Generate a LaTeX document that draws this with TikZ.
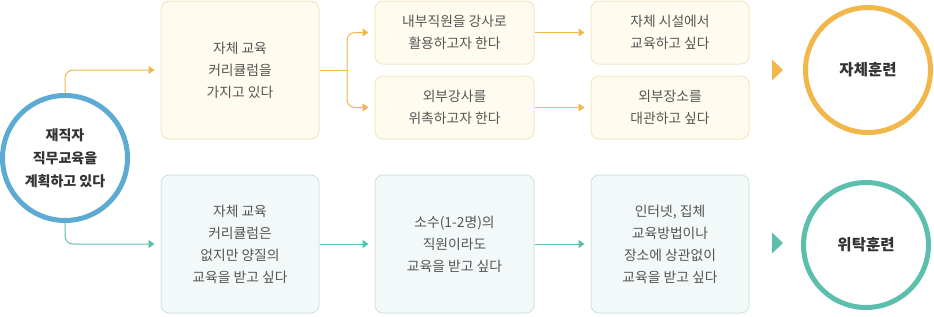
\documentclass[tikz,border=0pt]{standalone}
\usepackage{fontspec}
\setmainfont{Noto Sans CJK KR}
\usetikzlibrary{arrows.meta}
\definecolor{orangeC}{HTML}{F2B74A}
\definecolor{blueC}{HTML}{5DAAD2}
\definecolor{tealC}{HTML}{5CBFAE}
\definecolor{ufill}{HTML}{FFFCEF}
\definecolor{uline}{HTML}{F1E7C6}
\definecolor{lfill}{HTML}{F3F8F8}
\definecolor{lline}{HTML}{D3E5E3}
\definecolor{txt}{HTML}{555555}
\definecolor{btxt}{HTML}{333333}
\tikzset{
  ubox/.style={draw=uline, fill=ufill, line width=1pt, rounded corners=8pt, align=center,
    text=txt, font=\fontsize{13.8}{22}\selectfont, inner sep=0pt},
  lbox/.style={draw=lline, fill=lfill, line width=1pt, rounded corners=8pt, align=center,
    text=txt, font=\fontsize{13.8}{22}\selectfont, inner sep=0pt},
  ring/.style={circle, line width=5pt, fill=white, align=center, text=btxt, inner sep=0pt,
    minimum size=125pt},
  oconn/.style={draw=orangeC, line width=1pt, -{Triangle[length=6pt,width=8pt]}, shorten >=6pt},
  tconn/.style={draw=tealC, line width=1pt, -{Triangle[length=6pt,width=8pt]}, shorten >=6pt},
}
\begin{document}
\begin{tikzpicture}[x=1pt,y=-1pt]
\useasboundingbox (0,0) rectangle (934,316);
% left circle
\node[ring, draw=blueC, font=\bfseries\fontsize{14}{23}\selectfont] (start) at (65,158) {재직자\\직무교육을\\계획하고 있다};
% upper row
\node[ubox, minimum width=158pt, minimum height=138pt] (u1) at (240,70) {자체 교육\\커리큘럼을\\가지고 있다};
\node[ubox, minimum width=159pt, minimum height=63pt] (u2a) at (454.5,32.5) {내부직원을 강사로\\활용하고자 한다};
\node[ubox, minimum width=159pt, minimum height=63pt] (u2b) at (454.5,107.5) {외부강사를\\위촉하고자 한다};
\node[ubox, minimum width=158pt, minimum height=63pt] (u3a) at (670,32.5) {자체 시설에서\\교육하고 싶다};
\node[ubox, minimum width=158pt, minimum height=63pt] (u3b) at (670,107.5) {외부장소를\\대관하고 싶다};
\node[ring, draw=orangeC, font=\bfseries\fontsize{15.5}{22}\selectfont] (self) at (868,70) {자체훈련};
% lower row
\node[lbox, minimum width=158pt, minimum height=138pt] (l1) at (240,244) {자체 교육\\커리큘럼은\\없지만 양질의\\교육을 받고 싶다};
\node[lbox, minimum width=159pt, minimum height=138pt] (l2) at (454.5,244) {소수(1-2명)의\\직원이라도\\교육을 받고 싶다};
\node[lbox, minimum width=158pt, minimum height=138pt] (l3) at (670,244) {인터넷, 집체\\교육방법이나\\장소에 상관없이\\교육을 받고 싶다};
\node[ring, draw=tealC, font=\bfseries\fontsize{15.5}{22}\selectfont] (cons) at (866,245) {위탁훈련};
% connectors
\draw[oconn, rounded corners=8pt] (start.north) |- (u1.west);
\draw[tconn, rounded corners=8pt] (start.south) |- (l1.west);
\coordinate (j) at (347,70);
\draw[draw=orangeC, line width=1pt] (u1.east) -- (j);
\draw[oconn, rounded corners=8pt] (j) |- (u2a.west);
\draw[oconn, rounded corners=8pt] (j) |- (u2b.west);
\draw[oconn] (u2a.east) -- (u3a.west);
\draw[oconn] (u2b.east) -- (u3b.west);
\draw[tconn] (l1.east) -- (l2.west);
\draw[tconn] (l2.east) -- (l3.west);
% big triangles
\fill[orangeC] (772,59.5) -- (783,70) -- (772,80.5) -- cycle;
\fill[tealC] (772,232.5) -- (783,243) -- (772,253.5) -- cycle;
\end{tikzpicture}
\end{document}
